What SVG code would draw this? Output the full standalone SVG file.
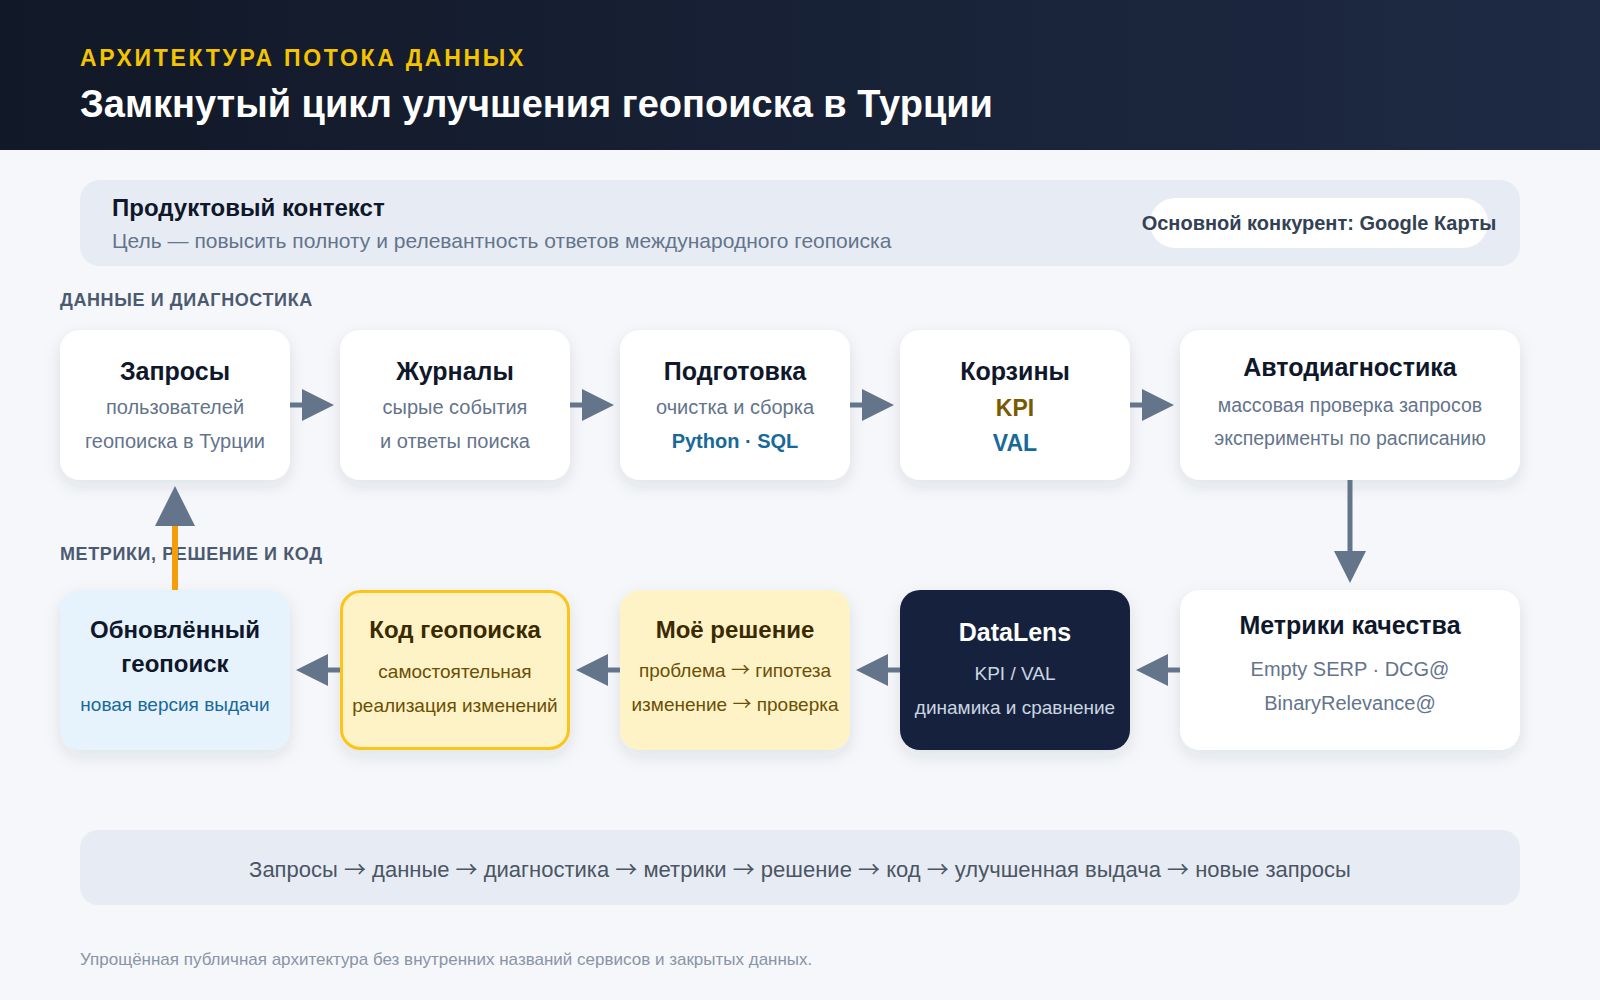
<svg xmlns="http://www.w3.org/2000/svg" width="1600" height="1000" viewBox="0 0 1600 1000">
  <defs>
    <linearGradient id="hdr" x1="0" y1="0" x2="1" y2="0">
      <stop offset="0" stop-color="#111827"/>
      <stop offset="1" stop-color="#1e2a44"/>
    </linearGradient>
    <filter id="sh" x="-20%" y="-20%" width="140%" height="150%">
      <feDropShadow dx="0" dy="6" stdDeviation="8" flood-color="#1e293b" flood-opacity="0.10"/>
    </filter>
    <marker id="ah" markerUnits="userSpaceOnUse" markerWidth="32" markerHeight="32" refX="0" refY="15.5" orient="auto" viewBox="0 0 31 31">
      <path d="M0,0 L31,15.5 L0,31 Z" fill="#64748b"/>
    </marker>
    <marker id="ahBig" markerUnits="userSpaceOnUse" markerWidth="40" markerHeight="40" refX="0" refY="19" orient="auto" viewBox="0 0 38 38">
      <path d="M0,0 L38,19 L0,38 Z" fill="#64748b"/>
    </marker>
  </defs>
  <style>
    text { font-family: "Liberation Sans", Arial, sans-serif; }
    .ar { font-family: "Noto Sans CJK SC", "Liberation Sans", sans-serif; }
    .t { font-size: 25px; font-weight: 700; fill: #0f172a; text-anchor: middle; }
    .t24 { font-size: 24px; font-weight: 700; fill: #0f172a; text-anchor: middle; }
    .s { font-size: 20px; fill: #64748b; text-anchor: middle; }
    .s19 { font-size: 19px; fill: #64748b; text-anchor: middle; }
    .blue { font-size: 20px; font-weight: 700; fill: #17699a; text-anchor: middle; }
    .sec { font-size: 18px; font-weight: 700; fill: #4b5a70; letter-spacing: 0.6px; }
    .card { fill: #ffffff; filter: url(#sh); }
    .ln { stroke: #64748b; stroke-width: 5; fill: none; marker-end: url(#ah); }
    .tY { font-size: 24px; font-weight: 700; fill: #3b2a00; text-anchor: middle; }
    .sY { font-size: 19px; fill: #6b4f05; text-anchor: middle; }
  </style>

  <rect x="0" y="0" width="1600" height="1000" fill="#f5f7fb"/>

  <g id="header">
    <rect x="0" y="0" width="1600" height="150" fill="url(#hdr)"/>
    <text x="80" y="66" font-size="23" font-weight="700" fill="#f5c400" letter-spacing="2.7">АРХИТЕКТУРА ПОТОКА ДАННЫХ</text>
    <text x="80" y="117" font-size="38" font-weight="700" fill="#ffffff">Замкнутый цикл улучшения геопоиска в Турции</text>
  </g>

  <g id="context">
    <rect x="80" y="180" width="1440" height="86" rx="20" fill="#e7ecf4"/>
    <text x="112" y="216" font-size="24" font-weight="700" fill="#0f172a">Продуктовый контекст</text>
    <text x="112" y="248" font-size="21" fill="#64748b">Цель — повысить полноту и релевантность ответов международного геопоиска</text>
    <rect x="1150" y="198" width="338" height="50" rx="25" fill="#ffffff"/>
    <text x="1319" y="230" font-size="20" font-weight="700" fill="#334155" text-anchor="middle">Основной конкурент: Google Карты</text>
  </g>

  <text x="60" y="306" class="sec">ДАННЫЕ И ДИАГНОСТИКА</text>
  <text x="60" y="560" class="sec">МЕТРИКИ, РЕШЕНИЕ И КОД</text>

  <g id="n1">
    <rect x="60" y="330" width="230" height="150" rx="20" class="card"/>
    <text x="175" y="380" class="t">Запросы</text>
    <text x="175" y="414" class="s">пользователей</text>
    <text x="175" y="448" class="s">геопоиска в Турции</text>
  </g>
  <g id="n2">
    <rect x="340" y="330" width="230" height="150" rx="20" class="card"/>
    <text x="455" y="380" class="t">Журналы</text>
    <text x="455" y="414" class="s">сырые события</text>
    <text x="455" y="448" class="s">и ответы поиска</text>
  </g>
  <g id="n3">
    <rect x="620" y="330" width="230" height="150" rx="20" class="card"/>
    <text x="735" y="380" class="t">Подготовка</text>
    <text x="735" y="414" class="s">очистка и сборка</text>
    <text x="735" y="448" class="blue">Python · SQL</text>
  </g>
  <g id="n4">
    <rect x="900" y="330" width="230" height="150" rx="20" class="card"/>
    <text x="1015" y="380" class="t">Корзины</text>
    <text x="1015" y="416" font-size="23" font-weight="700" fill="#7a5a00" text-anchor="middle">KPI</text>
    <text x="1015" y="451" font-size="23" font-weight="700" fill="#17699a" text-anchor="middle">VAL</text>
  </g>
  <g id="n5">
    <rect x="1180" y="330" width="340" height="150" rx="20" class="card"/>
    <text x="1350" y="376" class="t">Автодиагностика</text>
    <text x="1350" y="412" class="s19" style="font-size:19.5px">массовая проверка запросов</text>
    <text x="1350" y="445" class="s19" style="font-size:19.5px">эксперименты по расписанию</text>
  </g>

  <g id="n6">
    <rect x="60" y="590" width="230" height="160" rx="20" fill="#e6f2fc" filter="url(#sh)"/>
    <text x="175" y="638" class="t24">Обновлённый</text>
    <text x="175" y="672" class="t24">геопоиск</text>
    <text x="175" y="711" class="s19" style="fill:#17699a">новая версия выдачи</text>
  </g>
  <g id="n7">
    <rect x="341.5" y="591.5" width="227" height="157" rx="19" fill="#fef3c7" stroke="#fcc419" stroke-width="3" filter="url(#sh)"/>
    <text x="455" y="638" class="tY">Код геопоиска</text>
    <text x="455" y="678" class="sY">самостоятельная</text>
    <text x="455" y="712" class="sY">реализация изменений</text>
  </g>
  <g id="n8">
    <rect x="620" y="590" width="230" height="160" rx="20" fill="#fef3c7" filter="url(#sh)"/>
    <text x="735" y="638" class="tY">Моё решение</text>
    <text x="735" y="677" class="sY">проблема <tspan class="ar">→</tspan> гипотеза</text>
    <text x="735" y="711" class="sY">изменение <tspan class="ar">→</tspan> проверка</text>
  </g>
  <g id="n9">
    <rect x="900" y="590" width="230" height="160" rx="20" fill="#16213e" filter="url(#sh)"/>
    <text x="1015" y="641" class="t" style="fill:#ffffff">DataLens</text>
    <text x="1015" y="680" class="s19" style="fill:#cbd5e1">KPI / VAL</text>
    <text x="1015" y="714" class="s19" style="fill:#cbd5e1">динамика и сравнение</text>
  </g>
  <g id="n10">
    <rect x="1180" y="590" width="340" height="160" rx="20" class="card"/>
    <text x="1350" y="634" class="t">Метрики качества</text>
    <text x="1350" y="676" class="s">Empty SERP · DCG@</text>
    <text x="1350" y="710" class="s">BinaryRelevance@</text>
  </g>

  <g id="connectors">
    <line x1="290" y1="405" x2="302" y2="405" class="ln"/>
    <line x1="570" y1="405" x2="582" y2="405" class="ln"/>
    <line x1="850" y1="405" x2="862" y2="405" class="ln"/>
    <line x1="1130" y1="405" x2="1142" y2="405" class="ln"/>
    <line x1="1350" y1="480" x2="1350" y2="551" class="ln"/>
    <line x1="1180" y1="670" x2="1168" y2="670" class="ln"/>
    <line x1="900" y1="670" x2="888" y2="670" class="ln"/>
    <line x1="620" y1="670" x2="608" y2="670" class="ln"/>
    <line x1="340" y1="670" x2="328" y2="670" class="ln"/>
    <line x1="175" y1="590" x2="175" y2="526" stroke="#f59e0b" stroke-width="6" marker-end="url(#ahBig)"/>
  </g>

  <g id="summary">
    <rect x="80" y="830" width="1440" height="75" rx="18" fill="#e7ecf4"/>
    <text x="800" y="877" font-size="22" fill="#4b5563" text-anchor="middle">Запросы <tspan class="ar">→</tspan> данные <tspan class="ar">→</tspan> диагностика <tspan class="ar">→</tspan> метрики <tspan class="ar">→</tspan> решение <tspan class="ar">→</tspan> код <tspan class="ar">→</tspan> улучшенная выдача <tspan class="ar">→</tspan> новые запросы</text>
  </g>
  <text x="80" y="965" font-size="17" fill="#8a94a6">Упрощённая публичная архитектура без внутренних названий сервисов и закрытых данных.</text>
</svg>
